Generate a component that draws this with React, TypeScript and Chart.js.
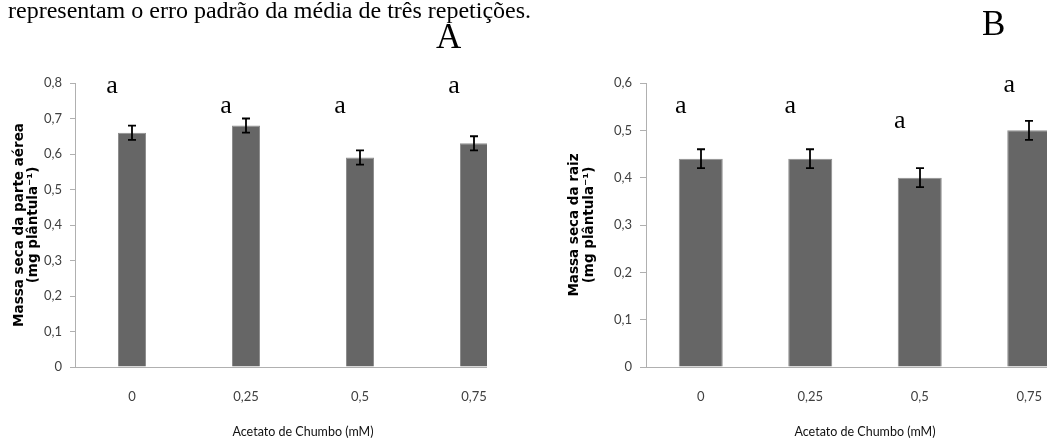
import { useEffect, useRef } from "react";
import { Chart, registerables } from "chart.js";

Chart.register(...registerables);

// Lead acetate doses (mM)
const doses = ["0", "0,25", "0,5", "0,75"];

// Shoot dry mass (mg per seedling) with standard error
const shootMass = [0.66, 0.68, 0.59, 0.63];
const shootErr = [0.02, 0.02, 0.02, 0.02];
const shootLetters = ["a", "a", "a", "a"];
const shootLetterLevel = [0.772, 0.715, 0.715, 0.772];

// Root dry mass (mg per seedling) with standard error
const rootMass = [0.44, 0.44, 0.4, 0.5];
const rootErr = [0.02, 0.02, 0.02, 0.02];
const rootLetters = ["a", "a", "a", "a"];
const rootLetterLevel = [0.537, 0.537, 0.505, 0.581];

const caption = "representam o erro padrão da média de três repetições.";
const xTitle = "Acetato de Chumbo (mM)";

const SANS = 'Lato, "DejaVu Sans Condensed", sans-serif';
const SERIF = '"Liberation Serif", "DejaVu Serif", serif';
const AXIS = "#b0b0b0";

type PanelProps = {
  values: number[];
  errors: number[];
  letters: string[];
  letterLevels: number[];
  yMax: number;
  yTitle: string[];
  barPct: number;
  axisWidth: number;
  titlePad: number;
  titleLineHeight: number;
  tickLength: number;
  tickPad: number;
  padRight: number;
  width: number;
  height: number;
};

function Panel(p: PanelProps) {
  const ref = useRef<HTMLCanvasElement | null>(null);

  useEffect(() => {
    if (!ref.current) return;

    // Error bars and significance letters drawn on top of the bars
    const annotate = {
      id: "annotate",
      afterDatasetsDraw(chart: any) {
        const ctx = chart.ctx;
        const y = chart.scales.y;
        const meta = chart.getDatasetMeta(0);
        ctx.save();
        ctx.strokeStyle = "#000";
        ctx.lineWidth = 1.8;
        meta.data.forEach((bar: any, i: number) => {
          const x = Math.round(bar.x);
          const top = y.getPixelForValue(p.values[i] + p.errors[i]);
          const bot = y.getPixelForValue(p.values[i] - p.errors[i]);
          ctx.beginPath();
          ctx.moveTo(x, top);
          ctx.lineTo(x, bot);
          ctx.moveTo(x - 4, top);
          ctx.lineTo(x + 4, top);
          ctx.moveTo(x - 4, bot);
          ctx.lineTo(x + 4, bot);
          ctx.stroke();
        });
        ctx.fillStyle = "#000";
        ctx.font = `26px ${SERIF}`;
        ctx.textAlign = "center";
        ctx.textBaseline = "alphabetic";
        meta.data.forEach((bar: any, i: number) => {
          ctx.fillText(p.letters[i], bar.x - 20, y.getPixelForValue(p.letterLevels[i]));
        });
        ctx.restore();
      },
    };

    const chart = new Chart(ref.current, {
      type: "bar",
      data: {
        labels: doses,
        datasets: [
          {
            data: p.values,
            backgroundColor: "#666666",
            borderColor: "#8f8f8f",
            borderWidth: 1,
            barPercentage: p.barPct,
            categoryPercentage: 1,
          },
        ],
      },
      options: {
        animation: false,
        responsive: false,
        devicePixelRatio: 1,
        layout: { padding: { top: 83, left: 0, right: p.padRight, bottom: 0 } },
        plugins: { legend: { display: false }, tooltip: { enabled: false } },
        scales: {
          x: {
            grid: { display: false, drawTicks: false },
            border: { display: true, color: AXIS },
            ticks: { padding: 22, color: "#404040", font: { family: SANS, size: 13 } },
            title: {
              display: true,
              text: xTitle,
              color: "#111",
              font: { family: SANS, size: 12.5, lineHeight: 1.2 },
              padding: { top: 0, bottom: 4 },
            },
            afterFit: (s: any) => {
              s.height = 76;
            },
          },
          y: {
            min: 0,
            max: p.yMax,
            ticks: {
              stepSize: 0.1,
              padding: p.tickPad,
              color: "#404040",
              font: { family: SANS, size: 13 },
              callback: (v: any) => (Number(v) === 0 ? "0" : Number(v).toFixed(1).replace(".", ",")),
            },
            grid: { drawOnChartArea: false, drawTicks: true, tickLength: p.tickLength, color: AXIS },
            border: { display: true, color: AXIS },
            title: {
              display: true,
              text: p.yTitle,
              color: "#000",
              font: { family: '"DejaVu Sans", sans-serif', weight: "bold", size: 13.5, lineHeight: p.titleLineHeight },
              padding: { top: p.titlePad, bottom: 0 },
            },
            afterFit: (s: any) => {
              s.width = p.axisWidth;
            },
          },
        },
      },
      plugins: [annotate],
    } as any);

    return () => chart.destroy();
  }, []);

  return <canvas ref={ref} width={p.width} height={p.height} style={{ display: "block" }} />;
}

export default function App() {
  return (
    <div
      style={{
        position: "absolute",
        left: 0,
        top: 0,
        width: 1047,
        height: 443,
        overflow: "hidden",
        background: "#fff",
      }}
    >
      <div style={{ position: "absolute", left: 0, top: 0, width: 487, height: 443, overflow: "hidden" }}>
        <Panel
          values={shootMass}
          errors={shootErr}
          letters={shootLetters}
          letterLevels={shootLetterLevel}
          yMax={0.8}
          yTitle={["Massa seca da parte aérea", "(mg plântula⁻¹)"]}
          barPct={0.246}
          axisWidth={75}
          titlePad={12}
          titleLineHeight={1.05}
          tickLength={5}
          tickPad={8}
          padRight={29}
          width={560}
          height={443}
        />
      </div>
      <div style={{ position: "absolute", left: 487, top: 0, width: 560, height: 443, overflow: "hidden" }}>
        <div style={{ position: "absolute", left: 53, top: 0 }}>
          <Panel
            values={rootMass}
            errors={rootErr}
            letters={rootLetters}
            letterLevels={rootLetterLevel}
            yMax={0.6}
            yTitle={["Massa seca da raiz", "(mg plântula⁻¹)"]}
            barPct={0.402}
            axisWidth={106}
            titlePad={27}
            titleLineHeight={1.1}
            tickLength={6}
            tickPad={8}
            padRight={16}
            width={560}
            height={443}
          />
        </div>
      </div>
      <div
        style={{
          position: "absolute",
          left: 8,
          top: -2,
          font: `24px/24px ${SERIF}`,
          whiteSpace: "nowrap",
          color: "#000",
        }}
      >
        {caption}
      </div>
      <div style={{ position: "absolute", left: 436, top: 19, font: `35px/35px ${SERIF}`, color: "#000" }}>A</div>
      <div style={{ position: "absolute", left: 982, top: 6, font: `35px/35px ${SERIF}`, color: "#000" }}>B</div>
    </div>
  );
}
